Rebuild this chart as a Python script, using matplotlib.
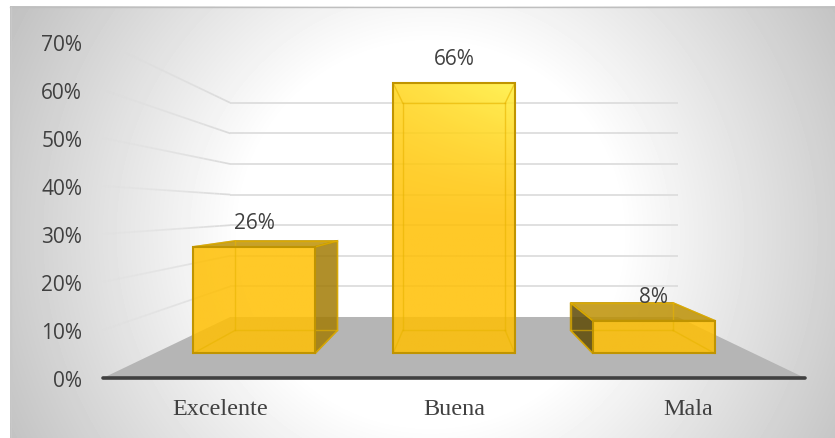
import matplotlib
matplotlib.use('Agg')
import matplotlib.pyplot as plt
import numpy as np
from matplotlib.collections import LineCollection
from matplotlib.patches import Polygon

categories = ['Excelente', 'Buena', 'Mala']
values = [26, 66, 8]
value_labels = ['26%', '66%', '8%']
y_ticks = [0, 10, 20, 30, 40, 50, 60, 70]

W, H = 835, 439

# perspective of the 3d chart: depth scale 1 = front plane
HORIZON = 35.06
BACK = 0.6375
BAR_FRONT = 0.854
BAR_BACK = 0.717
BAR_WIDTH = 0.61
CENTER = 1.0


def project(x, v, s):
    return CENTER + (x - CENTER) * s, HORIZON + (v - HORIZON) * s


fig = plt.figure(figsize=(W / 100, H / 100), dpi=100)
fig.patch.set_facecolor('white')

# background with radial gradient
bg = fig.add_axes([10 / W, 0, (W - 10) / W, (H - 7) / H], zorder=0)
yy, xx = np.mgrid[7:H, 10:W]
r = np.sqrt((xx - 430) ** 2 + (yy - 235) ** 2)
shade = 1 - np.clip((r - 190) / 290, 0, 1) * (63 / 255)
bg.imshow(shade, cmap='gray', vmin=0, vmax=1, aspect='auto', interpolation='bilinear')
bg.set_axis_off()
fig.add_artist(plt.Line2D([10 / W, 1], [1 - 7.5 / H, 1 - 7.5 / H], color='#bfbfbf', lw=1))
fig.add_artist(plt.Line2D([10.5 / W, 10.5 / W], [0, 1 - 7.5 / H], color='#c8c8c8', lw=1))

ax = fig.add_axes([103 / W, 1 - 379 / H, (805 - 103) / W, (379 - 43) / H], zorder=1)
ax.patch.set_alpha(0)
ax.set_xlim(-0.5, 2.5)
ax.set_ylim(0, 70)
for sp in ax.spines.values():
    sp.set_visible(False)

ax.set_yticks(y_ticks)
ax.set_yticklabels([f'{t}%' for t in y_ticks], fontfamily='Open Sans', fontsize=15, color='#404040')
ax.set_xticks(range(len(categories)))
ax.set_xticklabels(categories, fontfamily='Liberation Serif', fontsize=17.4, color='#404040')
ax.tick_params(axis='y', length=0, pad=15)
ax.tick_params(axis='x', length=0, pad=14.5)

# floor
floor = [project(-0.5, 0, 1), project(2.5, 0, 1), project(2.5, 0, BACK), project(-0.5, 0, BACK)]
ax.add_patch(Polygon(floor, closed=True, fc='#b5b5b5', ec='none', zorder=1, clip_on=False))

# gridlines, back wall and fading left wall
for t in y_ticks[1:]:
    x0, v0 = project(-0.5, t, BACK)
    x1, v1 = project(2.5, t, BACK)
    ax.plot([x0, x1], [v0, v1], color='#dcdcdc', lw=1.25, zorder=2, clip_on=False, solid_capstyle='butt')
    depth = np.linspace(1, BACK, 25)
    pts = np.array([project(-0.5, t, s) for s in depth])
    segs = np.stack([pts[:-1], pts[1:]], axis=1)
    alphas = np.linspace(0.1, 1, len(segs))
    colors = [(0.86, 0.86, 0.86, a) for a in alphas]
    ax.add_collection(LineCollection(segs, colors=colors, linewidths=1.25, zorder=2, clip_on=False))

ax.plot([-0.5, 2.5], [0, 0], color='#404040', lw=2.6, zorder=3, clip_on=False, solid_capstyle='round')

EDGE = '#c09400'
INNER = '#e8b400'

# bars
for i, val in enumerate(values):
    z = 4 + i * 0.1
    xl, xr = i - BAR_WIDTH / 2, i + BAR_WIDTH / 2
    fl_b = project(xl, 0, BAR_FRONT)
    fr_b = project(xr, 0, BAR_FRONT)
    fr_t = project(xr, val, BAR_FRONT)
    fl_t = project(xl, val, BAR_FRONT)
    bl_b = project(xl, 0, BAR_BACK)
    br_b = project(xr, 0, BAR_BACK)
    br_t = project(xr, val, BAR_BACK)
    bl_t = project(xl, val, BAR_BACK)

    left_out = xl > CENTER
    right_out = xr < CENTER
    top_out = val < HORIZON

    faint = dict(fc='#ffc800', alpha=0.08, ec='none')
    faces = [
        ([bl_b, br_b, br_t, bl_t], faint),
        ([fl_b, fr_b, br_b, bl_b], faint),
        ([fl_b, bl_b, bl_t, fl_t], dict(fc='#5e4a08', alpha=0.85, ec=EDGE, lw=1.2) if left_out else faint),
        ([fr_b, br_b, br_t, fr_t], dict(fc='#a27c08', alpha=0.85, ec=EDGE, lw=1.2) if right_out else faint),
        ([fl_t, fr_t, br_t, bl_t], dict(fc='#bd9208', alpha=0.85, ec=EDGE, lw=1.2) if top_out else faint),
    ]
    for pts, style in faces:
        ax.add_patch(Polygon(pts, closed=True, zorder=z + 0.01, clip_on=False, **style))

    # front face with the lighter sheen towards the top
    vv = np.linspace(0, val, 60)
    hh = np.linspace(0, 1, 30)
    hg, vg = np.meshgrid(hh, vv)
    tone = np.clip((vg - 30) / 36, 0, 1) ** 1.4 * (0.5 + 0.5 * hg)
    rgba = np.zeros(vg.shape + (4,))
    rgba[..., 0] = 1.0
    rgba[..., 1] = (192 + tone * (240 - 192)) / 255
    rgba[..., 2] = (5 + tone * 55) / 255
    rgba[..., 3] = 0.85
    im = ax.imshow(rgba, origin='lower', aspect='auto', zorder=z + 0.02, interpolation='bilinear',
                   extent=(fl_b[0], fr_b[0], fl_b[1], fl_t[1]))
    im.set_clip_path(Polygon([fl_b, fr_b, fr_t, fl_t], closed=True, transform=ax.transData))

    # back edges show faintly through the front
    for a, b in [(bl_b, br_b), (bl_b, bl_t), (br_b, br_t), (bl_t, br_t),
                 (fl_b, bl_b), (fr_b, br_b), (fl_t, bl_t), (fr_t, br_t)]:
        ax.plot([a[0], b[0]], [a[1], b[1]], color=INNER, lw=1, alpha=0.6, zorder=z + 0.03, clip_on=False)

    ax.add_patch(Polygon([fl_b, fr_b, fr_t, fl_t], closed=True, fc='none', ec=EDGE, lw=1.5,
                         zorder=z + 0.04, clip_on=False))

    ax.annotate(value_labels[i], xy=(project(i, val, BAR_FRONT)), xytext=(0, 17.5),
                textcoords='offset points', ha='center', va='center',
                fontfamily='Open Sans', fontsize=15, color='#404040', zorder=8)

ax.set_xlim(-0.5, 2.5)
ax.set_ylim(0, 70)

fig.savefig('out.png', dpi=100)
